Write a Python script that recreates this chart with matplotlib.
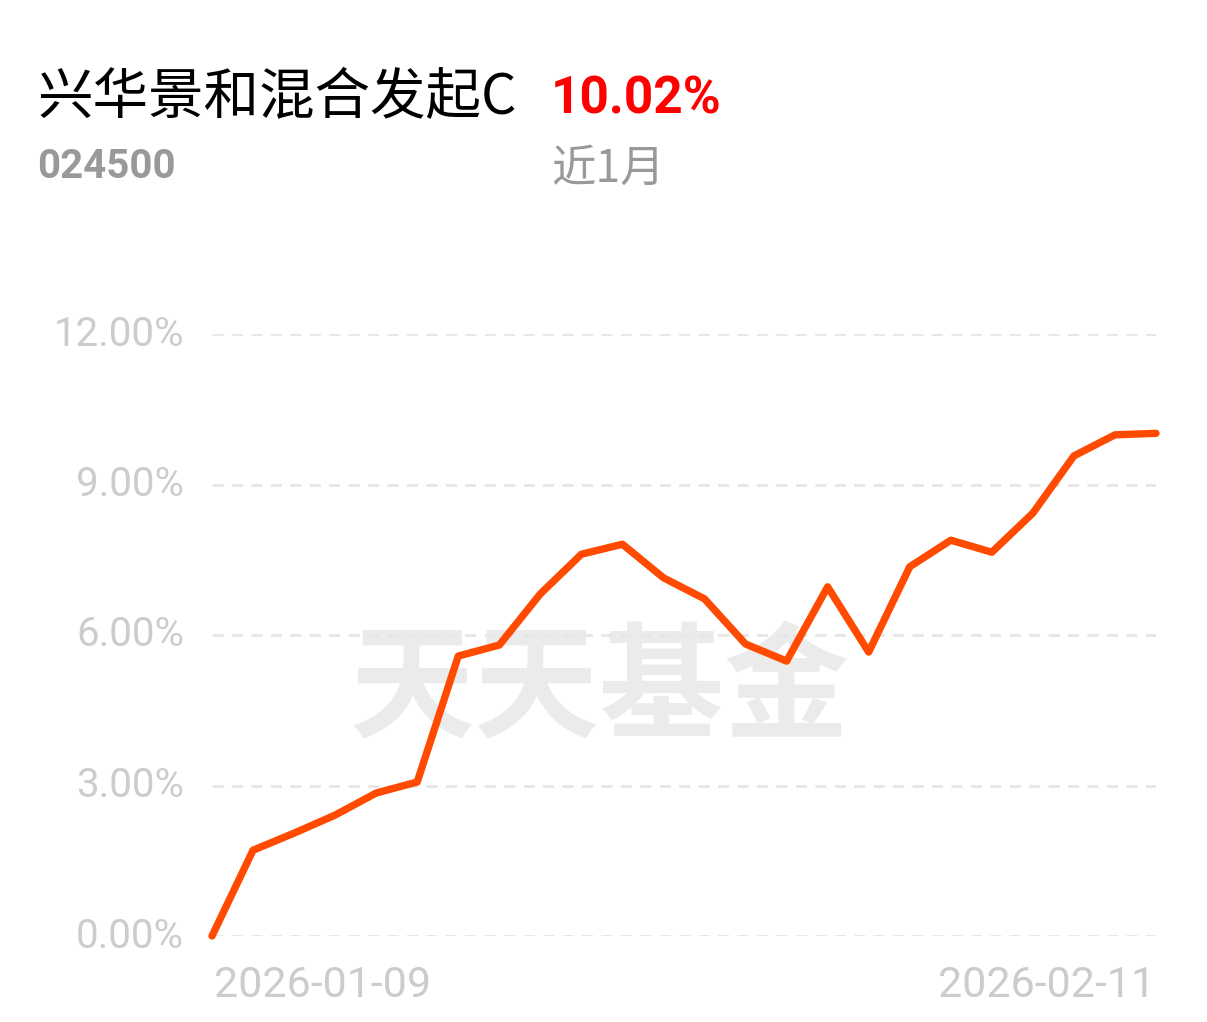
import numpy as np
import matplotlib
matplotlib.use('Agg')
import matplotlib.pyplot as plt
import matplotlib.transforms as mtransforms

# data
dates = ['2026-01-09', '2026-01-12', '2026-01-13', '2026-01-14', '2026-01-15',
		'2026-01-16', '2026-01-19', '2026-01-20', '2026-01-21', '2026-01-22',
		'2026-01-23', '2026-01-26', '2026-01-27', '2026-01-28', '2026-01-29',
		'2026-01-30', '2026-02-02', '2026-02-03', '2026-02-04', '2026-02-05',
		'2026-02-06', '2026-02-09', '2026-02-10', '2026-02-11']
returns = [0.00, 1.71, 2.05, 2.41, 2.85, 3.07, 5.58, 5.80, 6.82, 7.61,
		7.81, 7.14, 6.72, 5.82, 5.48, 6.96, 5.66, 7.36, 7.89, 7.65,
		8.43, 9.57, 9.99, 10.02]
yticks = [0, 3, 6, 9, 12]
fund_name = '兴华景和混合发起C'
fund_code = '024500'
period = '近1月'
watermark = '天天基金'

W, H = 1207, 1022
fig = plt.figure(figsize=(W/100, H/100), dpi=100)
fig.patch.set_facecolor('white')

cjk = ['Noto Sans CJK SC', 'DejaVu Sans']
num = ['Roboto', 'DejaVu Sans']

ax = fig.add_axes([212/W, 1-936/H, (1156-212)/W, (936-334)/H])
x = np.arange(len(returns))
ax.set_xlim(0, len(returns)-1)
ax.set_ylim(0, 12)
for s in ax.spines.values():
	s.set_visible(False)
ax.set_xticks([])
ax.set_yticks(yticks)
ax.set_yticklabels(['%.2f%%' % v for v in yticks], fontsize=29, color='#cccccc',
	family=num)
ax.tick_params(axis='y', length=0, pad=20)
# nudge tick labels up a few pixels
up = mtransforms.ScaledTranslation(0, 4/100, fig.dpi_scale_trans)
for lab in ax.get_yticklabels():
	lab.set_transform(lab.get_transform() + up)
for v in yticks:
	ax.axhline(v, color='#e6e6e6', lw=2, dashes=(4, 3), zorder=1)

# watermark behind the line
ax.text(0.41, 0.405, watermark, transform=ax.transAxes, ha='center', va='center',
	fontsize=90, color='#ebebeb', family=cjk, weight='bold', zorder=0)

ax.plot(x, returns, color='#ff4a00', lw=5.3, solid_joinstyle='round',
	solid_capstyle='round', clip_on=False, zorder=3)

# date labels under the axis
ax.text(0.002, -0.048, dates[0], transform=ax.transAxes, ha='left', va='top',
	fontsize=31, color='#cccccc', family=num)
ax.text(0.999, -0.048, dates[-1], transform=ax.transAxes, ha='right', va='top',
	fontsize=31, color='#cccccc', family=num)

# header
fig.text(37/W, 1-98/H, fund_name, ha='left', va='center', fontsize=40,
	color='black', family=cjk)
fig.text(551/W, 1-100/H, '%.2f%%' % returns[-1], ha='left', va='center',
	fontsize=37, color='#ff0000', weight='bold', family=num)
fig.text(37/W, 1-167/H, fund_code, ha='left', va='center', fontsize=29,
	color='#999999', weight='bold', family=num)
fig.text(551/W, 1-169/H, period, ha='left', va='center', fontsize=32,
	color='#999999', family=cjk)

fig.savefig('out.png', dpi=100, facecolor='white')
